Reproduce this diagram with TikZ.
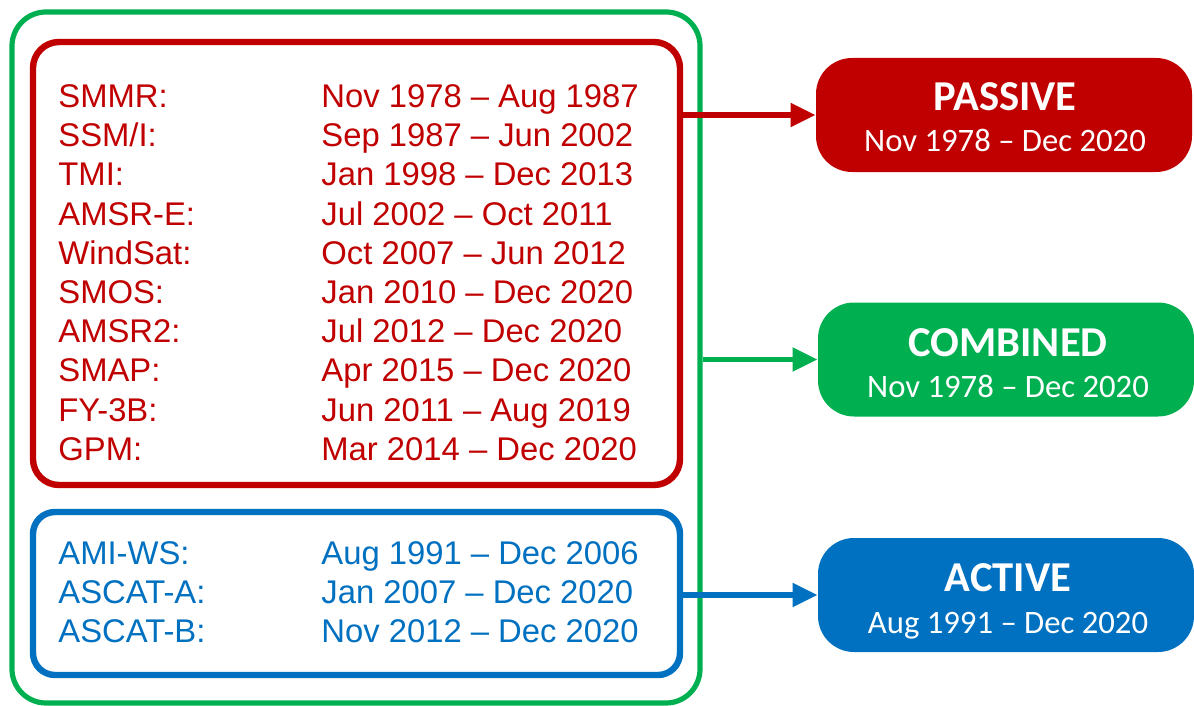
\documentclass[tikz,border=0pt]{standalone}
\usepackage{fontspec}
\setmainfont{Liberation Sans}
\newfontfamily\calibri{Carlito}
\usetikzlibrary{arrows.meta}
\definecolor{cred}{HTML}{C00000}
\definecolor{cgreen}{HTML}{00B050}
\definecolor{cblue}{HTML}{0070C0}
\tikzset{
  frame/.style={draw, inner sep=0pt, fill=none},
  lbl/.style={anchor=base west, inner sep=0pt, font=\fontsize{16.4}{19}\selectfont},
  result/.style={inner sep=0pt, rounded corners=18pt, minimum width=188pt, minimum height=57pt, text=white},
  title/.style={anchor=base, inner sep=0pt, font=\calibri\bfseries\fontsize{21.3}{24}\selectfont, text=white},
  sub/.style={anchor=base, inner sep=0pt, font=\calibri\fontsize{16.35}{19}\selectfont, text=white},
  conn/.style={line width=2.6pt, -{Triangle[length=12.5pt,width=11.5pt]}}
}
\begin{document}
\begin{tikzpicture}[x=0.5pt,y=-0.5pt]
\useasboundingbox (0,0) rectangle (1194,706);
% outer frames
\node[frame, draw=cgreen, line width=2.6pt, rounded corners=17pt, minimum width=344pt, minimum height=345.5pt] (green) at (356,357.5) {};
\node[frame, draw=cred, line width=3.2pt, rounded corners=13pt, minimum width=323.5pt, minimum height=221.5pt] (red) at (356.5,263.5) {};
\node[frame, draw=cblue, line width=3.2pt, rounded corners=11pt, minimum width=323.5pt, minimum height=81.5pt] (blue) at (356.5,593.5) {};
% passive list
\foreach \n/\d [count=\i from 0] in {SMMR:/Nov 1978 – Aug 1987, {SSM/I:}/Sep 1987 – Jun 2002, TMI:/Jan 1998 – Dec 2013, AMSR-E:/Jul 2002 – Oct 2011, WindSat:/Oct 2007 – Jun 2012, SMOS:/Jan 2010 – Dec 2020, AMSR2:/Jul 2012 – Dec 2020, SMAP:/Apr 2015 – Dec 2020, FY-3B:/Jun 2011 – Aug 2019, GPM:/Mar 2014 – Dec 2020}{
  \node[lbl, text=cred] (pl\i) at (58,{107.5+39.2*\i}) {\n};
  \node[lbl, text=cred] (pd\i) at (321,{107.5+39.2*\i}) {\d};
}
% active list
\foreach \n/\d [count=\i from 0] in {AMI-WS:/Aug 1991 – Dec 2006, ASCAT-A:/Jan 2007 – Dec 2020, ASCAT-B:/Nov 2012 – Dec 2020}{
  \node[lbl, text=cblue] (al\i) at (58,{564.5+39*\i}) {\n};
  \node[lbl, text=cblue] (ad\i) at (321,{564.5+39*\i}) {\d};
}
% result boxes
\node[result, fill=cred] (passive) at (1004,115) {};
\node[result, fill=cgreen] (combined) at (1006,359.5) {};
\node[result, fill=cblue] (active) at (1006,595) {};
\node[title] (passiveT) at (1005,110.5) {PASSIVE};
\node[sub] (passiveD) at (1005,152) {Nov 1978 – Dec 2020};
\node[title] (combinedT) at (1008,356) {COMBINED};
\node[sub] (combinedD) at (1008,397) {Nov 1978 – Dec 2020};
\node[title] (activeT) at (1008,591.5) {ACTIVE};
\node[sub] (activeD) at (1008,633) {Aug 1991 – Dec 2020};
% connectors
\draw[conn, draw=cred, fill=cred] (red.east |- passive.west) -- (passive.west);
\draw[conn, draw=cgreen, fill=cgreen] (green.east |- combined.west) -- (combined.west);
\draw[conn, draw=cblue, fill=cblue] (blue.east |- active.west) -- (active.west);
\end{tikzpicture}
\end{document}
